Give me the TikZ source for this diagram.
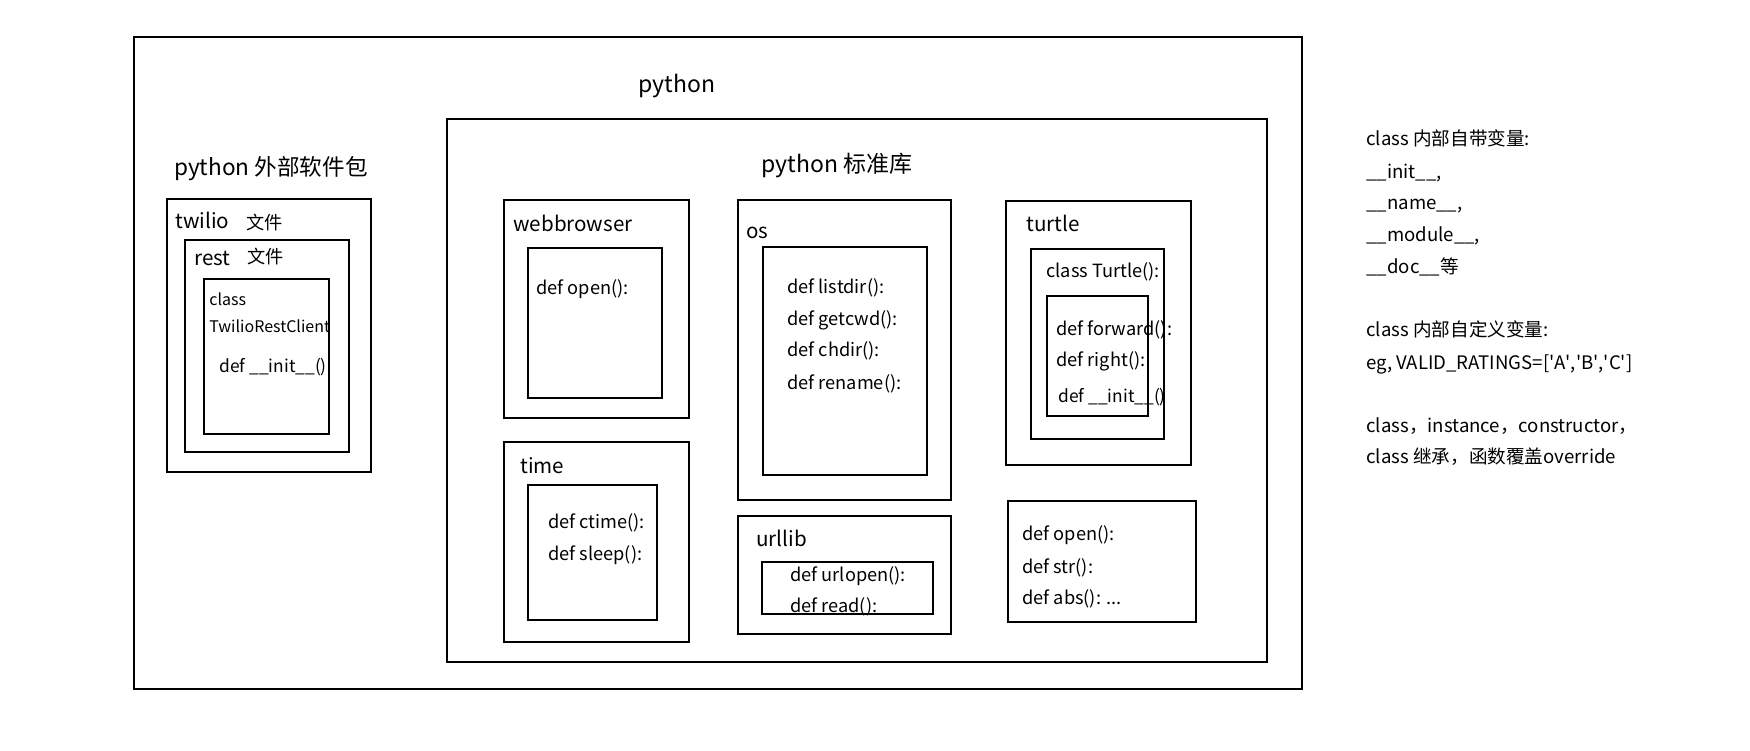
\documentclass[tikz,border=0pt]{standalone}
\usepackage{fontspec}
\setmainfont{Noto Sans CJK SC}
\usetikzlibrary{fit}
\begin{document}
\begin{tikzpicture}[x=0.5pt,y=-0.5pt,
  box/.style={draw=black,line width=0.6pt,inner sep=0pt},
  txt/.style={anchor=west,inner sep=0pt,yshift=-1.3pt,text height=0.75em,text depth=0.25em,font=\fontsize{9.1}{11}\selectfont},
  lbl/.style={txt,font=\fontsize{10.3}{12}\selectfont},
  small/.style={txt,font=\fontsize{8}{10}\selectfont},
  initf/.style={txt,font=\fontsize{8.7}{10}\selectfont},
  ttl/.style={anchor=center,inner sep=0pt,yshift=-1.3pt,font=\fontsize{11.5}{13}\selectfont},
  note/.style={anchor=west,inner sep=0pt,yshift=-1.3pt,text height=0.75em,text depth=0.25em,font=\fontsize{9.3}{11}\selectfont}]
\useasboundingbox (0,0) rectangle (1750,750);
% outer
\node[box,fit={(134,37) (1302,689)}] (outer) {};
\node[ttl] (tpython) at (677,83) {python};
% external packages
\node[ttl,font=\fontsize{11.3}{13}\selectfont] (text) at (271,166) {python 外部软件包};
\node[box,fit={(167,199) (371,472)}] (twilio) {};
\node[lbl] (ttwilio) at (175,221) {twilio};
\node[txt] (tfile1) at (246,222) {文件};
\node[box,fit={(185,240) (349,452)}] (rest) {};
\node[lbl] (trest) at (194,258) {rest};
\node[txt] (tfile2) at (247,256) {文件};
\node[box,fit={(204,279) (329,434)}] (trc) {};
\node[small] (tclass) at (209,298) {class};
\node[small] (ttrc) at (209,325) {TwilioRestClient};
\node[initf] (tinit1) at (219,365) {def \_\_init\_\_()};
% standard library
\node[box,fit={(447,119) (1267,662)}] (std) {};
\node[ttl] (tstd) at (837,163) {python 标准库};
% webbrowser
\node[box,fit={(504,200) (689,418)}] (web) {};
\node[lbl] (tweb) at (513,224) {webbrowser};
\node[box,fit={(528,248) (662,398)}] (webin) {};
\node[txt] (topen1) at (536,287) {def open():};
% os
\node[box,fit={(738,200) (951,500)}] (os) {};
\node[lbl] (tos) at (746,231) {os};
\node[box,fit={(763,247) (927,475)}] (osin) {};
\node[txt] (tlist) at (787,286) {def listdir():};
\node[txt] (tcwd) at (787,318) {def getcwd():};
\node[txt] (tchdir) at (787,349) {def chdir():};
\node[txt] (tren) at (787,382) {def rename():};
% turtle
\node[box,fit={(1006,201) (1191,465)}] (turtle) {};
\node[lbl] (tturtle) at (1026,224) {turtle};
\node[box,fit={(1031,249) (1164,439)}] (tclassbox) {};
\node[txt] (tclassT) at (1046,270) {class Turtle():};
\node[box,fit={(1047,296) (1148,416)}] (tin) {};
\node[txt] (tfwd) at (1056,328) {def forward():};
\node[txt] (tright) at (1056,359) {def right():};
\node[initf] (tinit2) at (1058,395) {def \_\_init\_\_()};
% time
\node[box,fit={(504,442) (689,642)}] (time) {};
\node[lbl] (ttime) at (520,466) {time};
\node[box,fit={(528,485) (657,620)}] (timein) {};
\node[txt] (tctime) at (548,521) {def ctime():};
\node[txt] (tsleep) at (548,553) {def sleep():};
% urllib
\node[box,fit={(738,516) (951,634)}] (url) {};
\node[lbl] (turl) at (756,539) {urllib};
\node[box,fit={(762,562) (933,614)}] (urlin) {};
\node[txt] (turlopen) at (790,574) {def urlopen():};
\node[txt] (tread) at (790,605) {def read():};
% builtins
\node[box,fit={(1008,501) (1196,622)}] (bi) {};
\node[txt] (topen2) at (1022,533) {def open():};
\node[txt] (tstr) at (1022,566) {def str():};
\node[txt] (tabs) at (1022,597) {def abs(): ...};
% notes
\node[note] (n1) at (1366,138) {class 内部自带变量:};
\node[note] (n2) at (1366,171) {\_\_init\_\_,};
\node[note] (n3) at (1366,202) {\_\_name\_\_,};
\node[note] (n4) at (1366,234) {\_\_module\_\_,};
\node[note] (n5) at (1366,266) {\_\_doc\_\_等};
\node[note] (n6) at (1366,329) {class 内部自定义变量:};
\node[note] (n7) at (1366,362) {eg, VALID\_RATINGS=[\textquotesingle A\textquotesingle,\textquotesingle B\textquotesingle,\textquotesingle C\textquotesingle]};
\node[note] (n8) at (1366,425) {class，instance，constructor，};
\node[note] (n9) at (1366,456) {class 继承，函数覆盖override};
\end{tikzpicture}
\end{document}
